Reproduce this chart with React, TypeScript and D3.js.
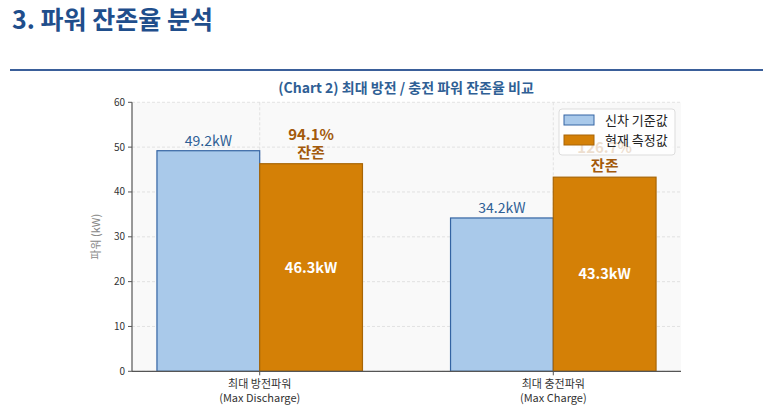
import React from "react";
import * as d3 from "d3";

const categories = ["최대 방전파워\n(Max Discharge)", "최대 충전파워\n(Max Charge)"];
const baseline = [49.2, 34.2];
const current = [46.3, 43.3];
const retention = ["94.1%", "126.7%"];
const yTicks = [0, 10, 20, 30, 40, 50, 60];
const seriesNames = ["신차 기준값", "현재 측정값"];

const W = 773;
const H = 415;
const FONT = "'Noto Sans CJK KR', 'Noto Sans', sans-serif";

const App = () => {
  const barW = 0.35;
  const x = d3.scaleLinear().domain([-0.435, 1.435]).range([132, 681]);
  const y = d3.scaleLinear().domain([0, 60]).range([371.3, 102.3]);
  const bw = x(barW) - x(0);

  return (
    <div style={{ position: "absolute", left: 0, top: 0 }}>
      <svg width={W} height={H} style={{ display: "block", fontFamily: FONT }}>
        <rect width={W} height={H} fill="#fff" />
        <text x={12} y={29} fontSize={25} fontWeight="bold" fill="#1f4e8c">3. 파워 잔존율 분석</text>
        <line x1={10} x2={763} y1={70} y2={70} stroke="#3a5f9a" strokeWidth={2} />

        <text x={406} y={93} textAnchor="middle" fontSize={14} fontWeight="bold" fill="#2f5f95">
          (Chart 2) 최대 방전 / 충전 파워 잔존율 비교
        </text>

        {/* plot area */}
        <rect x={x.range()[0]} y={y(60)} width={x.range()[1] - x.range()[0]} height={y(0) - y(60)} fill="#f9f9f9" />
        {yTicks.map(t => (
          <line key={"g" + t} x1={x.range()[0]} x2={x.range()[1]} y1={y(t)} y2={y(t)}
            stroke="#dcdcdc" strokeWidth={0.8} strokeDasharray="3,2" />
        ))}
        {categories.map((c, i) => (
          <line key={"v" + i} x1={x(i)} x2={x(i)} y1={y(60)} y2={y(0)}
            stroke="#dcdcdc" strokeWidth={0.8} strokeDasharray="3,2" />
        ))}

        {baseline.map((v, i) => (
          <rect key={"b" + i} x={x(i - barW)} y={y(v)} width={bw} height={y(0) - y(v)}
            fill="#a9c9ea" stroke="#3464a3" strokeWidth={1.2} />
        ))}
        {current.map((v, i) => (
          <rect key={"c" + i} x={x(i)} y={y(v)} width={bw} height={y(0) - y(v)}
            fill="#d48006" stroke="#a86506" strokeWidth={1.2} />
        ))}

        {baseline.map((v, i) => (
          <text key={"bl" + i} x={x(i - barW / 2)} y={y(v) - 5} textAnchor="middle" fontSize={14} fill="#2f5f95">
            {v.toFixed(1)}kW
          </text>
        ))}
        {current.map((v, i) => (
          <text key={"cl" + i} x={x(i + barW / 2)} y={y(v / 2)} dy="0.35em" textAnchor="middle"
            fontSize={14.5} fontWeight={600} fill="#fff">
            {v.toFixed(1)}kW
          </text>
        ))}
        {current.map((v, i) => (
          <g key={"r" + i} fontSize={15} fontWeight="bold" fill="#a35a0c" textAnchor="middle">
            <text x={x(i + barW / 2)} y={y(v) - 24}>{retention[i]}</text>
            <text x={x(i + barW / 2)} y={y(v) - 6}>잔존</text>
          </g>
        ))}

        {/* axes */}
        <line x1={x.range()[0]} x2={x.range()[0]} y1={y(60)} y2={y(0)} stroke="#555" strokeWidth={1.2} />
        <line x1={x.range()[0]} x2={x.range()[1]} y1={y(0)} y2={y(0)} stroke="#555" strokeWidth={1.2} />
        {yTicks.map(t => (
          <g key={"t" + t}>
            <line x1={x.range()[0] - 4} x2={x.range()[0]} y1={y(t)} y2={y(t)} stroke="#555" />
            <text x={x.range()[0] - 7} y={y(t)} dy="0.35em" textAnchor="end" fontSize={10} fill="#333">{t}</text>
          </g>
        ))}
        {categories.map((c, i) => (
          <g key={"xt" + i}>
            <line x1={x(i)} x2={x(i)} y1={y(0)} y2={y(0) + 4} stroke="#555" />
            {c.split("\n").map((s, k) => (
              <text key={k} x={x(i)} y={y(0) + 17 + k * 14} textAnchor="middle" fontSize={11} fill="#333">{s}</text>
            ))}
          </g>
        ))}
        <text transform={`translate(96,${(y(0) + y(60)) / 2}) rotate(-90)`} textAnchor="middle"
          dy="0.35em" fontSize={11} fill="#888">파워 (kW)</text>

        {/* legend drawn over the labels, semi-transparent like the reference */}
        <rect x={559} y={109} width={116} height={46} rx={3} fill="#fff" fillOpacity={0.8} stroke="#ddd" />
        {seriesNames.map((s, i) => (
          <g key={"l" + i}>
            <rect x={564} y={115 + i * 20} width={30} height={10}
              fill={i === 0 ? "#a9c9ea" : "#d48006"} stroke={i === 0 ? "#3464a3" : "#a86506"} />
            <text x={605} y={120 + i * 20} dy="0.35em" fontSize={13} fill="#222">{s}</text>
          </g>
        ))}
      </svg>
    </div>
  );
};

export default App;
